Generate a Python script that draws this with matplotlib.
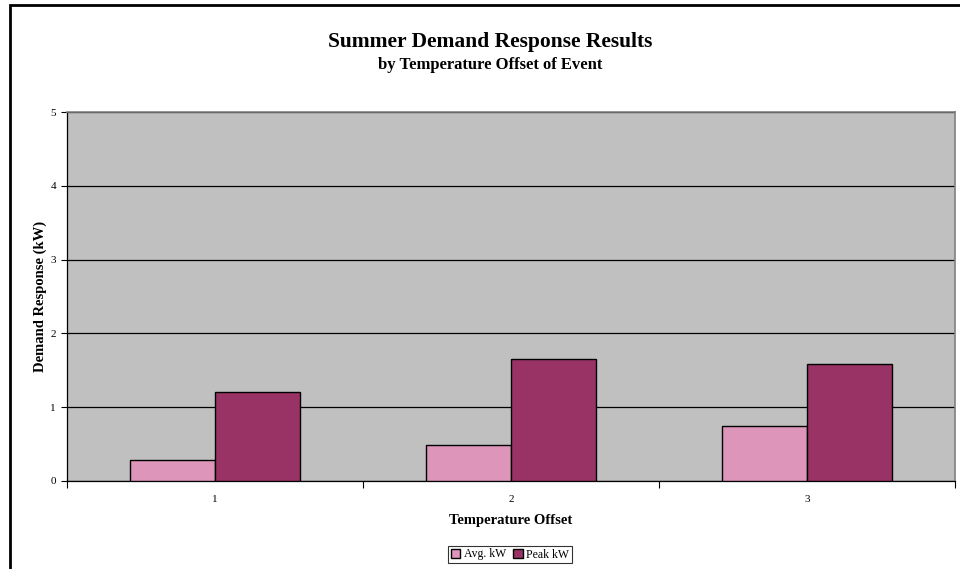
import matplotlib
matplotlib.use("Agg")
import matplotlib.pyplot as plt
from matplotlib.patches import Rectangle
import numpy as np

plt.rcParams['font.family'] = ['Liberation Serif', 'DejaVu Serif']

categories = ["1", "2", "3"]
avg_kw = [0.29, 0.49, 0.74]
peak_kw = [1.21, 1.65, 1.59]
series_names = ["Avg. kW", "Peak kW"]
y_ticks = [0, 1, 2, 3, 4, 5]

fig = plt.figure(figsize=(9.6, 5.69), dpi=100)
fig.patch.set_facecolor("white")

# chart-area border (extends past right and bottom edges)
fig.add_artist(Rectangle((10 / 960, -0.05), 1.2, 1 - 5 / 569 + 0.05,
                         transform=fig.transFigure, fill=False,
                         edgecolor="black", linewidth=2))

ax = fig.add_axes([67 / 960, 1 - 481 / 569, 888 / 960, 369 / 569])
ax.set_facecolor("#C0C0C0")

x = np.arange(len(categories))
w = 0.287
ax.bar(x - w / 2, avg_kw, w, color="#DD96BA", edgecolor="black", linewidth=1,
       label=series_names[0], zorder=3)
ax.bar(x + w / 2, peak_kw, w, color="#993366", edgecolor="black", linewidth=1,
       label=series_names[1], zorder=3)

ax.set_xlim(-0.5, len(categories) - 0.5)
ax.set_ylim(0, 5)
ax.set_yticks(y_ticks)
ax.set_yticklabels([str(t) for t in y_ticks], fontsize=8)
ax.yaxis.grid(True, color="black", linewidth=0.9, zorder=1)
ax.set_axisbelow(True)

# category boundaries carry the tick marks, labels sit at centers
ax.set_xticks(np.arange(-0.5, len(categories), 1.0))
ax.set_xticklabels([])
ax.set_xticks(x, minor=True)
ax.set_xticklabels(categories, minor=True, fontsize=8)
ax.tick_params(axis="x", which="minor", length=0, pad=10)
ax.tick_params(axis="x", which="major", length=5, width=0.8, direction="out")
ax.tick_params(axis="y", length=4, width=0.8, direction="out", pad=4)

for side in ("top", "right"):
    ax.spines[side].set_color("#808080")
    ax.spines[side].set_linewidth(1.2)
ax.spines["left"].set_color("black")
ax.spines["bottom"].set_color("black")
ax.spines["left"].set_linewidth(0.9)
ax.spines["bottom"].set_linewidth(0.9)

ax.set_ylabel("Demand Response (kW)", fontsize=10.5, fontweight="bold", labelpad=2)
ax.set_xlabel("Temperature Offset", fontsize=10.5, fontweight="bold", labelpad=7)

fig.text(490 / 960, 1 - 42 / 569, "Summer Demand Response Results",
         ha="center", va="center", fontsize=15.5, fontweight="bold")
fig.text(490 / 960, 1 - 65 / 569, "by Temperature Offset of Event",
         ha="center", va="center", fontsize=12, fontweight="bold")

leg = fig.legend(loc="center", bbox_to_anchor=(510 / 960, 1 - 554.5 / 569),
                 ncol=2, fontsize=8.5, frameon=True, fancybox=False,
                 edgecolor="black", handlelength=0.8, handleheight=0.8,
                 handletextpad=0.3, columnspacing=0.6, borderpad=0.2,
                 borderaxespad=0)
leg.get_frame().set_linewidth(0.8)

fig.savefig("out.png", dpi=100)
